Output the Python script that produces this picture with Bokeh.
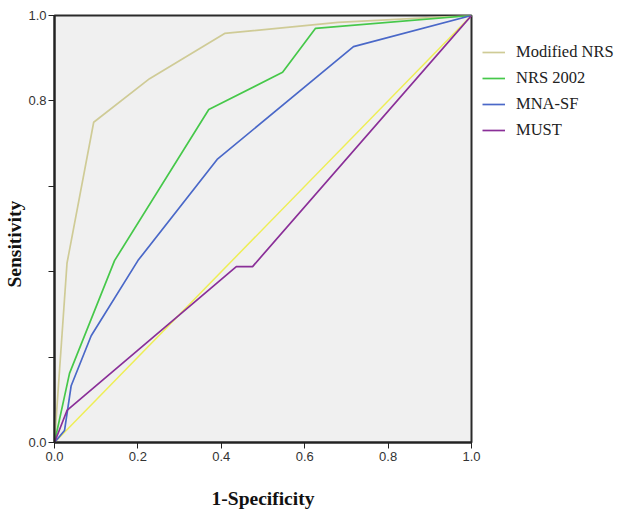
from bokeh.plotting import figure
from bokeh.models import Range1d, Legend, LegendItem, FixedTicker, Title
from bokeh.embed import file_html
from bokeh.resources import INLINE

# ROC curves (1-Specificity, Sensitivity)
mod_nrs_x = [0.0, 0.03, 0.094, 0.228, 0.408, 0.68, 1.0]
mod_nrs_y = [0.0, 0.42, 0.75, 0.852, 0.958, 0.984, 1.0]

nrs2002_x = [0.0, 0.036, 0.144, 0.37, 0.547, 0.626, 1.0]
nrs2002_y = [0.0, 0.162, 0.426, 0.78, 0.867, 0.97, 1.0]

mnasf_x = [0.0, 0.024, 0.04, 0.088, 0.2, 0.39, 0.717, 1.0]
mnasf_y = [0.0, 0.028, 0.133, 0.25, 0.426, 0.663, 0.927, 1.0]

must_x = [0.0, 0.03, 0.436, 0.475, 1.0]
must_y = [0.0, 0.075, 0.412, 0.412, 1.0]

ref_x = [0.0, 1.0]
ref_y = [0.0, 1.0]

series_names = ["Modified NRS", "NRS 2002", "MNA-SF", "MUST"]
series_colors = ["#cfcb96", "#46c84a", "#4a68c8", "#8a2f98"]

ticks = [0.0, 0.2, 0.4, 0.6, 0.8, 1.0]
x_tick_labels = {0.0: "0.0", 0.2: "0.2", 0.4: "0.4", 0.6: "0.6", 0.8: "0.8", 1.0: "1.0"}
y_tick_labels = {0.0: "0.0", 0.2: "", 0.4: "", 0.6: "", 0.8: "0.8", 1.0: "1.0"}

p = figure(frame_width=417, frame_height=427,
           min_border_left=47, min_border_top=15, min_border_right=0, min_border_bottom=55,
           x_range=Range1d(0, 1), y_range=Range1d(0, 1),
           output_backend="svg", toolbar_location=None, tools="")
p.background_fill_color = "#f0f0f0"
p.border_fill_color = "white"
p.grid.visible = False
p.outline_line_color = "#2a2a2a"
p.outline_line_width = 2

r_ref = p.line(ref_x, ref_y, line_color="#eeee55", line_width=1.5)
renderers = []
for xs, ys, c in zip([mod_nrs_x, nrs2002_x, mnasf_x, must_x],
                     [mod_nrs_y, nrs2002_y, mnasf_y, must_y], series_colors):
    renderers.append(p.line(xs, ys, line_color=c, line_width=1.7))

for ax in (p.xaxis[0], p.yaxis[0]):
    ax.ticker = FixedTicker(ticks=ticks)
    ax.minor_tick_line_color = None
    ax.major_tick_in = 0
    ax.major_tick_out = 6
    ax.axis_line_color = "#222222"
    ax.axis_line_width = 2
    ax.major_tick_line_color = "#222222"
    ax.major_label_text_font = "Liberation Sans"
    ax.major_label_text_font_size = "13px"
    ax.major_label_text_color = "#333333"
    ax.axis_label_text_font = "Liberation Serif"
    ax.axis_label_text_font_style = "bold"
    ax.axis_label_text_font_size = "19.5px"
    ax.axis_label_text_color = "#111111"

p.xaxis[0].major_label_overrides = x_tick_labels
p.yaxis[0].major_label_overrides = y_tick_labels
p.xaxis[0].axis_label = "1-Specificity"
p.xaxis[0].major_label_standoff = 3
p.xaxis[0].axis_label_standoff = 24
p.yaxis[0].major_label_standoff = 2

ylab = Title(text="Sensitivity", align="left", offset=155, standoff=2,
             text_font="Liberation Serif", text_font_style="bold",
             text_font_size="19.5px", text_color="#111111")
p.add_layout(ylab, "left")

legend = Legend(items=[LegendItem(label=n, renderers=[r]) for n, r in zip(series_names, renderers)],
                location=(11, 302), orientation="vertical",
                label_text_font="Liberation Serif", label_text_font_size="16.5px",
                label_text_color="#222222",
                glyph_width=23, glyph_height=20, label_height=20, spacing=6,
                label_standoff=11, padding=0, margin=0,
                border_line_color=None, background_fill_alpha=0)
p.add_layout(legend, "right")

open("out.html", "w").write(file_html(p, INLINE))
